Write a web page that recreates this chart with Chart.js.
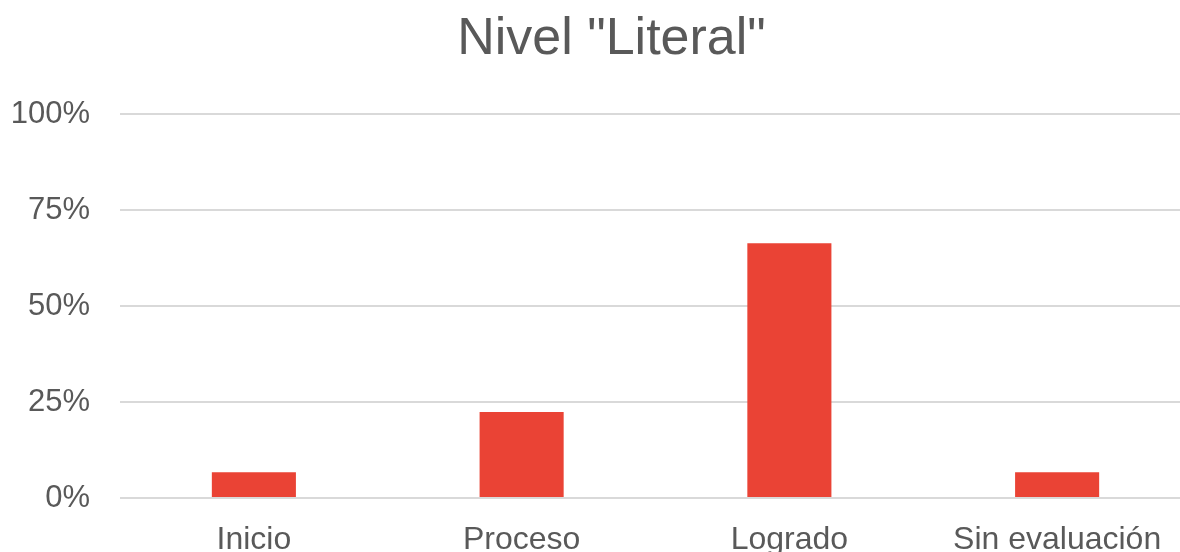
<!DOCTYPE html>
<html>
<head>
<meta charset="utf-8">
<script src="https://cdn.jsdelivr.net/npm/chart.js@4.4.1/dist/chart.umd.min.js"></script>
<style>
  html, body { margin: 0; padding: 0; background: #ffffff; overflow: hidden; width: 1180px; height: 552px; }
  #wrap { position: absolute; left: 0; top: 0; width: 1192px; height: 556px; }
</style>
</head>
<body>
<div id="wrap"><canvas id="c" width="1192" height="556"></canvas></div>
<script>
const titleText = 'Nivel "Literal"';
const categories = ['Inicio', 'Proceso', 'Logrado', 'Sin evaluación'];
const values = [6.7, 22.4, 66.4, 6.7];
const yTicks = [0, 25, 50, 75, 100];

const textColor = '#595959';
const fontFamily = '"Liberation Sans", Arial, Helvetica, sans-serif';

const titleShift = {
  id: 'titleShift',
  afterLayout(chart) {
    const t = chart.titleBlock;
    if (t) { t.left = 32; }
  }
};

new Chart(document.getElementById('c'), {
  type: 'bar',
  data: {
    labels: categories,
    datasets: [{
      data: values,
      backgroundColor: '#ea4335',
      borderWidth: 0,
      barPercentage: 0.314,
      categoryPercentage: 1.0
    }]
  },
  plugins: [titleShift],
  options: {
    responsive: false,
    animation: false,
    devicePixelRatio: 1,
    layout: { padding: { left: 8, right: 1, top: 0, bottom: 0 } },
    plugins: {
      legend: { display: false },
      tooltip: { enabled: false },
      title: {
        display: true,
        text: titleText,
        color: textColor,
        font: { family: fontFamily, size: 52, weight: 'normal', lineHeight: 1.2 },
        padding: { top: 8, bottom: 44 }
      }
    },
    scales: {
      x: {
        grid: { display: false, drawTicks: false },
        border: { display: false },
        afterFit: (scale) => { scale.height = 58; },
        ticks: {
          color: textColor,
          font: { family: fontFamily, size: 32, lineHeight: 1.2 },
          padding: 23,
          maxRotation: 0,
          autoSkip: false
        }
      },
      y: {
        min: 0,
        max: 100,
        afterBuildTicks: (scale) => { scale.ticks = yTicks.map(v => ({ value: v })); },
        afterFit: (scale) => { scale.width = 112; },
        grid: { color: '#d9d9d9', lineWidth: 2, drawTicks: false },
        border: { display: false },
        ticks: {
          color: textColor,
          font: { family: fontFamily, size: 31, lineHeight: 1.2 },
          padding: 30,
          callback: (v) => v + '%'
        }
      }
    }
  }
});
</script>
</body>
</html>
